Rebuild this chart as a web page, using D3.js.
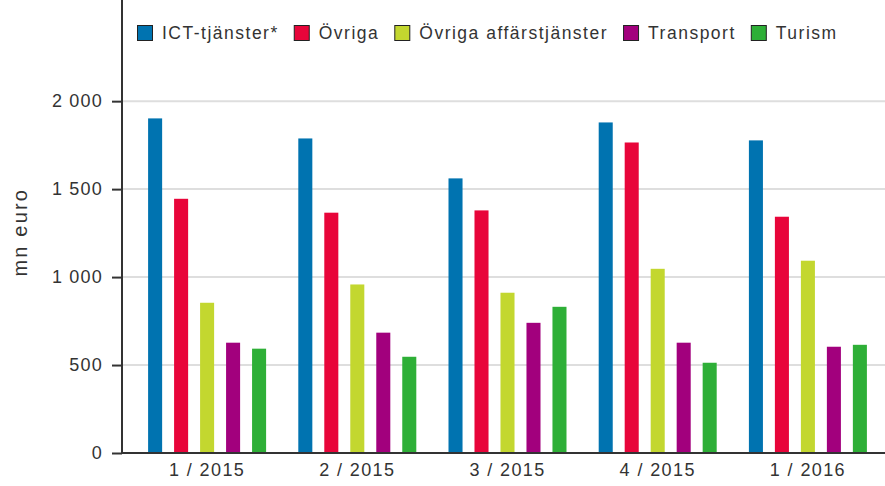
<!DOCTYPE html>
<html>
<head>
<meta charset="utf-8">
<script src="https://cdn.jsdelivr.net/npm/d3@7"></script>
<style>
  body { margin: 0; background: #fff; }
  text { font-family: "Liberation Sans", Arial, sans-serif; fill: #333; }
</style>
</head>
<body>
<div id="chart"></div>
<script>
const WIDTH = 885;
const HEIGHT = 486;

// === DATA ===
const quarters = ["1 / 2015", "2 / 2015", "3 / 2015", "4 / 2015", "1 / 2016"];
const seriesNames = ["ICT-tjänster*", "Övriga", "Övriga affärstjänster", "Transport", "Turism"];
const seriesColors = ["#0073b0", "#e8053a", "#c3d72f", "#a2007d", "#2eaf37"];

const ict       = [1902, 1788, 1561, 1879, 1777];
const ovriga    = [1445, 1366, 1379, 1765, 1343];
const affars    = [854, 958, 911, 1047, 1093];
const transport = [627, 684, 740, 627, 604];
const turism    = [593, 547, 831, 513, 615];
const seriesValues = [ict, ovriga, affars, transport, turism];

const yTicks = [0, 500, 1000, 1500, 2000];

const margin = { left: 122, right: 0, top: 0, bottom: 33 };
const plotBottom = HEIGHT - margin.bottom;

const svg = d3.select("#chart")
    .append("svg")
    .attr("width", WIDTH)
    .attr("height", HEIGHT);

// scales
const y = d3.scaleLinear().domain([0, 2575]).range([plotBottom, 0]);
const x0 = d3.scaleBand().domain(quarters).range([132, 883]);
const x1 = d3.scaleBand().domain(seriesNames).range([0, 118]).paddingInner(0.46).paddingOuter(0);
const groupOffset = (x0.bandwidth() - 118) / 2;

// gridlines
svg.append("g")
    .selectAll("line")
    .data(yTicks.filter(d => d > 0))
    .enter()
    .append("line")
    .attr("x1", margin.left)
    .attr("x2", WIDTH)
    .attr("y1", d => y(d))
    .attr("y2", d => y(d))
    .attr("stroke", "#dedede")
    .attr("stroke-width", 2);

// bars
const groups = svg.append("g")
    .selectAll("g")
    .data(quarters)
    .enter()
    .append("g")
    .attr("transform", d => `translate(${x0(d) + groupOffset},0)`);

groups.selectAll("rect")
    .data((q, qi) => seriesNames.map((s, si) => ({ s, si, v: seriesValues[si][qi] })))
    .enter()
    .append("rect")
    .attr("x", d => x1(d.s))
    .attr("width", x1.bandwidth())
    .attr("y", d => y(d.v))
    .attr("height", d => plotBottom - y(d.v))
    .attr("fill", d => seriesColors[d.si]);

// y axis
const yAxis = svg.append("g")
    .attr("transform", `translate(${margin.left},0)`)
    .call(d3.axisLeft(y)
        .tickValues(yTicks)
        .tickSize(10)
        .tickPadding(9)
        .tickFormat(d => d3.format(",")(d).replace(/,/g, " ")));
yAxis.select(".domain").remove();
yAxis.selectAll(".tick line").attr("stroke", "#333").attr("stroke-width", 2);
yAxis.selectAll(".tick text")
    .attr("fill", "#333")
    .style("font-size", "18px")
    .style("letter-spacing", "1.2px")
    .style("font-family", "'Liberation Sans', Arial, sans-serif");

svg.append("line")
    .attr("x1", margin.left).attr("x2", margin.left)
    .attr("y1", 0).attr("y2", plotBottom + 1)
    .attr("stroke", "#333").attr("stroke-width", 2);

// x axis
const xAxis = svg.append("g")
    .attr("transform", `translate(0,${plotBottom})`)
    .call(d3.axisBottom(x0).tickSize(0).tickPadding(10));
xAxis.select(".domain").remove();
xAxis.selectAll(".tick text")
    .attr("fill", "#333")
    .style("font-size", "18px")
    .style("letter-spacing", "1.4px")
    .style("font-family", "'Liberation Sans', Arial, sans-serif");

svg.append("line")
    .attr("x1", margin.left - 1).attr("x2", WIDTH)
    .attr("y1", plotBottom).attr("y2", plotBottom)
    .attr("stroke", "#333").attr("stroke-width", 2);

// y title
svg.append("text")
    .attr("transform", `translate(27,${y(1255)}) rotate(-90)`)
    .attr("text-anchor", "middle")
    .style("font-size", "20px")
    .style("letter-spacing", "2.2px")
    .text("mn euro");

// === LEGEND ===
const legend = svg.append("g").attr("transform", "translate(137,25)");
let lx = 0;
seriesNames.forEach((name, i) => {
    const item = legend.append("g").attr("transform", `translate(${lx},0)`);
    item.append("rect")
        .attr("x", 0.5).attr("y", 0.5)
        .attr("width", 15).attr("height", 15)
        .attr("fill", seriesColors[i])
        .attr("stroke", "#222")
        .attr("stroke-width", 1);
    const t = item.append("text")
        .attr("x", 25)
        .attr("y", 14)
        .style("font-size", "17.5px")
        .style("letter-spacing", "1.5px")
        .text(name);
    lx += 25 + t.node().getComputedTextLength() + 15;
});
</script>
</body>
</html>
